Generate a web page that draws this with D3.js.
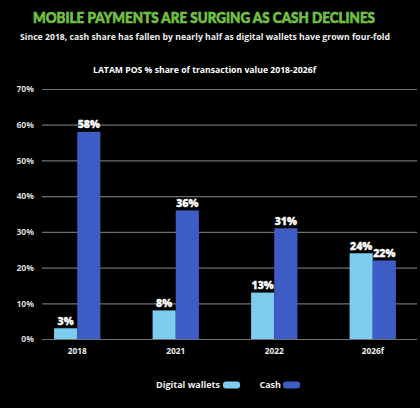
<!DOCTYPE html>
<html><head><meta charset="utf-8">
<script src="https://cdn.jsdelivr.net/npm/d3@7"></script>
<style>
html,body{margin:0;padding:0;background:#000;}
svg{display:block;}
text{font-family:"Open Sans",Lato,sans-serif;}
</style></head>
<body>
<svg id="c" width="420" height="408"></svg>
<script>
const categories = ["2018", "2021", "2022", "2026f"];
const digitalWallets = [3, 8, 13, 24];
const cash = [58, 36, 31, 22];
const yTicks = [0, 10, 20, 30, 40, 50, 60, 70];
const seriesNames = ["Digital wallets", "Cash"];
const colors = ["#7ccdf0", "#3e5cc5"];

const svg = d3.select("#c");
svg.append("rect").attr("width",420).attr("height",408).attr("fill","#000");

svg.append("text").attr("x",204).attr("y",22.5).attr("text-anchor","middle")
  .attr("fill","#72c043").attr("stroke","#72c043").attr("stroke-width",0.6)
  .attr("font-size",14.5).attr("font-weight",900)
  .attr("textLength",342).attr("lengthAdjust","spacingAndGlyphs")
  .style("font-family","Lato, sans-serif")
  .text("MOBILE PAYMENTS ARE SURGING AS CASH DECLINES");
svg.append("text").attr("x",205).attr("y",39.5).attr("text-anchor","middle")
  .attr("fill","#eeeeee").attr("font-size",8.8).attr("font-weight",700)
  .attr("textLength",370).attr("lengthAdjust","spacingAndGlyphs")
  .text("Since 2018, cash share has fallen by nearly half as digital wallets have grown four-fold");
svg.append("text").attr("x",204.5).attr("y",73).attr("text-anchor","middle")
  .attr("fill","#ffffff").attr("font-size",8.6).attr("font-weight",700)
  .attr("textLength",223).attr("lengthAdjust","spacingAndGlyphs")
  .text("LATAM POS % share of transaction value 2018-2026f");

const y = d3.scaleLinear().domain([0,70]).range([339,89]);
const x0 = d3.scaleBand().domain(categories).range([28,422]).paddingInner(0.53).paddingOuter(0.265);
const x1 = d3.scaleBand().domain(seriesNames).range([0,x0.bandwidth()]);

// gridlines + y labels
const yAxis = d3.axisLeft(y).tickValues(yTicks).tickFormat(d=>d+"%").tickSize(-375).tickPadding(8);
const ga = svg.append("g").attr("transform","translate(42,0)").call(yAxis);
ga.select(".domain").remove();
ga.selectAll(".tick line").attr("stroke","#707070").attr("stroke-width",1.2);
ga.selectAll(".tick text").attr("fill","#d8d8d8").attr("font-size",8.6).attr("font-weight",700)
  .style("font-family","'Open Sans',sans-serif");

// x labels
const xAxis = d3.axisBottom(x0).tickSize(0).tickPadding(9);
const gx = svg.append("g").attr("transform","translate(0,339)").call(xAxis);
gx.select(".domain").remove();
gx.selectAll(".tick text").attr("fill","#eeeeee").attr("font-size",8.3).attr("font-weight",700)
  .style("font-family","'Open Sans',sans-serif");

const data = categories.map((c,i)=>({cat:c, vals:[digitalWallets[i], cash[i]]}));
const groups = svg.append("g").selectAll("g").data(data).join("g")
  .attr("transform",d=>`translate(${x0(d.cat)},0)`);
groups.selectAll("rect").data(d=>d.vals.map((v,j)=>({v, s:seriesNames[j], j}))).join("rect")
  .attr("x",d=>x1(d.s)).attr("width",x1.bandwidth())
  .attr("y",d=>y(d.v)).attr("height",d=>y(0)-y(d.v))
  .attr("fill",d=>colors[d.j]);
groups.selectAll("text.lab").data(d=>d.vals.map((v,j)=>({v, s:seriesNames[j], j}))).join("text")
  .attr("class","lab")
  .attr("x",d=>x1(d.s)+x1.bandwidth()/2).attr("y",d=>y(d.v)-3.5)
  .attr("text-anchor","middle").attr("fill","#ffffff").attr("stroke","#ffffff").attr("stroke-width",0.3)
  .attr("font-size",10.5).attr("font-weight",800)
  .text(d=>d.v+"%");

// legend
const legend = svg.append("g").attr("transform","translate(0,385)");
const legX = [[220,223],[281,283]];
seriesNames.forEach((n,i)=>{
  legend.append("text").attr("x",legX[i][0]).attr("y",3.2).attr("text-anchor","end")
    .attr("fill","#eeeeee").attr("font-size",9).attr("font-weight",700).text(n);
  legend.append("rect").attr("x",legX[i][1]).attr("y",-3.5).attr("width",17).attr("height",7)
    .attr("rx",3).attr("fill",colors[i]);
});
</script>
</body></html>
